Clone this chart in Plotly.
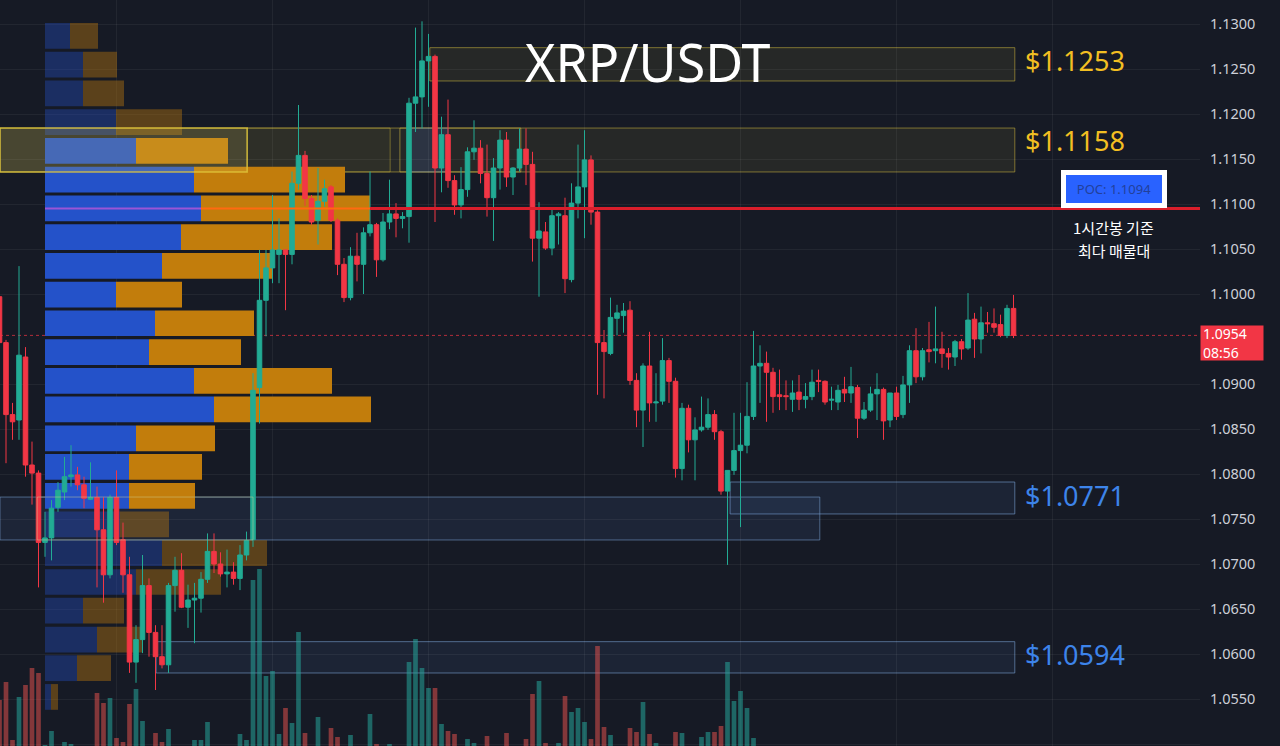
import plotly.graph_objects as go

# ---------------- data ----------------
bar_index = list(range(157))  # 1h bars

opens = [1.0997, 1.0946, 1.0866, 1.0860, 1.0930, 1.0810, 1.0801, 1.0724, 1.0729, 1.0763,
         1.0780, 1.0797, 1.0799, 1.0788, 1.0772, 1.0774, 1.0738, 1.0688, 1.0774, 1.0727,
         1.0688, 1.0591, 1.0616, 1.0676, 1.0624, 1.0597, 1.0588, 1.0676, 1.0693, 1.0652,
         1.0660, 1.0662, 1.0683, 1.0714, 1.0700, 1.0689, 1.0691, 1.0684, 1.0710, 1.0727,
         1.0896, 1.0993, 1.1029, 1.1044, 1.1049, 1.1044, 1.1123, 1.1154, 1.1106, 1.1082,
         1.1103, 1.1119, 1.1082, 1.1033, 1.0996, 1.1042, 1.1033, 1.1068, 1.1077, 1.1038,
         1.1080, 1.1089, 1.1084, 1.1086, 1.1212, 1.1219, 1.1259, 1.1264, 1.1140, 1.1177,
         1.1126, 1.1099, 1.1116, 1.1158, 1.1162, 1.1134, 1.1107, 1.1140, 1.1171, 1.1130,
         1.1140, 1.1161, 1.1144, 1.1062, 1.1069, 1.1051, 1.1087, 1.1087, 1.1016, 1.1101,
         1.1119, 1.1149, 1.1091, 1.0946, 1.0934, 1.0973, 1.0976, 1.0982, 1.0904, 1.0871,
         1.0920, 1.0879, 1.0881, 1.0926, 1.0903, 1.0806, 1.0873, 1.0838, 1.0849, 1.0852,
         1.0866, 1.0847, 1.0781, 1.0804, 1.0826, 1.0832, 1.0864, 1.0920, 1.0923, 1.0913,
         1.0888, 1.0887, 1.0883, 1.0891, 1.0883, 1.0886, 1.0904, 1.0903, 1.0882, 1.0880,
         1.0894, 1.0890, 1.0896, 1.0862, 1.0871, 1.0889, 1.0894, 1.0860, 1.0890, 1.0866,
         1.0899, 1.0937, 1.0908, 1.0938, 1.0937, 1.0939, 1.0934, 1.0930, 1.0947, 1.0940,
         1.0972, 1.0950, 1.0968, 1.0967, 1.0966, 1.0954, 1.0984]

highs = [1.1004, 1.0949, 1.0879, 1.1031, 1.0941, 1.0836, 1.0804, 1.0758, 1.0771, 1.0791,
         1.0819, 1.0832, 1.0808, 1.0797, 1.0813, 1.0786, 1.0774, 1.0777, 1.0804, 1.0746,
         1.0708, 1.0632, 1.0710, 1.0684, 1.0632, 1.0632, 1.0679, 1.0708, 1.0712, 1.0677,
         1.0679, 1.0691, 1.0734, 1.0734, 1.0713, 1.0716, 1.0702, 1.0721, 1.0736, 1.0912,
         1.1049, 1.1049, 1.1110, 1.1084, 1.1049, 1.1136, 1.1210, 1.1159, 1.1110, 1.1140,
         1.1127, 1.1121, 1.1084, 1.1040, 1.1052, 1.1068, 1.1074, 1.1136, 1.1079, 1.1090,
         1.1127, 1.1101, 1.1091, 1.1218, 1.1296, 1.1303, 1.1289, 1.1266, 1.1197, 1.1216,
         1.1132, 1.1141, 1.1163, 1.1193, 1.1171, 1.1166, 1.1151, 1.1182, 1.1180, 1.1141,
         1.1184, 1.1184, 1.1158, 1.1102, 1.1080, 1.1096, 1.1091, 1.1107, 1.1123, 1.1166,
         1.1182, 1.1154, 1.1093, 1.0960, 1.0996, 1.0988, 1.0990, 1.0992, 1.0912, 1.0923,
         1.0958, 1.0912, 1.0951, 1.0929, 1.0907, 1.0879, 1.0877, 1.0863, 1.0886, 1.0884,
         1.0871, 1.0849, 1.0804, 1.0868, 1.0868, 1.0902, 1.0959, 1.0943, 1.0936, 1.0918,
         1.0916, 1.0904, 1.0904, 1.0910, 1.0901, 1.0916, 1.0916, 1.0904, 1.0897, 1.0899,
         1.0908, 1.0919, 1.0899, 1.0880, 1.0897, 1.0912, 1.0896, 1.0890, 1.0897, 1.0909,
         1.0943, 1.0962, 1.0940, 1.0969, 1.0986, 1.0958, 1.0940, 1.0949, 1.0950, 1.1001,
         1.0979, 1.0986, 1.0980, 1.0984, 1.0977, 1.0988, 1.0999]

lows = [1.0943, 1.0812, 1.0838, 1.0838, 1.0797, 1.0766, 1.0674, 1.0708, 1.0704, 1.0758,
        1.0771, 1.0786, 1.0782, 1.0762, 1.0771, 1.0674, 1.0657, 1.0684, 1.0721, 1.0668,
        1.0579, 1.0568, 1.0601, 1.0597, 1.0560, 1.0584, 1.0579, 1.0647, 1.0651, 1.0629,
        1.0612, 1.0646, 1.0679, 1.0690, 1.0686, 1.0674, 1.0677, 1.0671, 1.0704, 1.0719,
        1.0856, 1.0953, 1.1012, 1.1012, 1.0982, 1.1033, 1.1116, 1.1098, 1.1077, 1.1055,
        1.1097, 1.1080, 1.1021, 1.0991, 1.0993, 1.1014, 1.1000, 1.1064, 1.1019, 1.1036,
        1.1072, 1.1063, 1.1073, 1.1057, 1.1180, 1.1184, 1.1208, 1.1080, 1.1113, 1.1118,
        1.1088, 1.1084, 1.1108, 1.1149, 1.1123, 1.1086, 1.1059, 1.1116, 1.1119, 1.1110,
        1.1136, 1.1121, 1.1036, 1.0997, 1.1049, 1.1043, 1.1055, 1.1001, 1.1013, 1.1084,
        1.1062, 1.1077, 1.0888, 1.0884, 1.0932, 1.0954, 1.0957, 1.0899, 1.0852, 1.0830,
        1.0858, 1.0858, 1.0877, 1.0879, 1.0796, 1.0793, 1.0824, 1.0793, 1.0847, 1.0849,
        1.0838, 1.0777, 1.0699, 1.0799, 1.0741, 1.0823, 1.0860, 1.0879, 1.0858, 1.0868,
        1.0871, 1.0871, 1.0869, 1.0871, 1.0873, 1.0882, 1.0891, 1.0877, 1.0871, 1.0871,
        1.0880, 1.0879, 1.0840, 1.0860, 1.0869, 1.0860, 1.0838, 1.0852, 1.0860, 1.0862,
        1.0879, 1.0901, 1.0904, 1.0924, 1.0923, 1.0918, 1.0916, 1.0920, 1.0927, 1.0938,
        1.0929, 1.0934, 1.0957, 1.0957, 1.0952, 1.0951, 1.0951]

closes = [1.0946, 1.0866, 1.0858, 1.0932, 1.0810, 1.0801, 1.0724, 1.0729, 1.0762, 1.0782,
          1.0797, 1.0799, 1.0788, 1.0773, 1.0774, 1.0738, 1.0688, 1.0774, 1.0724, 1.0688,
          1.0591, 1.0616, 1.0676, 1.0624, 1.0597, 1.0588, 1.0676, 1.0693, 1.0652, 1.0660,
          1.0662, 1.0683, 1.0714, 1.0700, 1.0689, 1.0691, 1.0684, 1.0710, 1.0726, 1.0893,
          1.0993, 1.1029, 1.1049, 1.1049, 1.1044, 1.1123, 1.1154, 1.1106, 1.1080, 1.1103,
          1.1117, 1.1082, 1.1033, 1.0996, 1.1042, 1.1033, 1.1068, 1.1077, 1.1038, 1.1080,
          1.1089, 1.1084, 1.1086, 1.1212, 1.1219, 1.1259, 1.1264, 1.1140, 1.1177, 1.1126,
          1.1099, 1.1116, 1.1158, 1.1162, 1.1134, 1.1107, 1.1140, 1.1171, 1.1130, 1.1140,
          1.1161, 1.1144, 1.1062, 1.1070, 1.1051, 1.1087, 1.1089, 1.1017, 1.1101, 1.1119,
          1.1149, 1.1091, 1.0946, 1.0936, 1.0974, 1.0979, 1.0981, 1.0904, 1.0871, 1.0920,
          1.0879, 1.0880, 1.0926, 1.0903, 1.0806, 1.0873, 1.0838, 1.0849, 1.0852, 1.0866,
          1.0847, 1.0781, 1.0804, 1.0826, 1.0832, 1.0864, 1.0920, 1.0923, 1.0913, 1.0886,
          1.0886, 1.0886, 1.0890, 1.0883, 1.0886, 1.0902, 1.0903, 1.0880, 1.0883, 1.0893,
          1.0890, 1.0897, 1.0862, 1.0871, 1.0889, 1.0894, 1.0859, 1.0890, 1.0864, 1.0899,
          1.0937, 1.0908, 1.0937, 1.0936, 1.0939, 1.0934, 1.0930, 1.0947, 1.0939, 1.0971,
          1.0950, 1.0968, 1.0967, 1.0963, 1.0954, 1.0984, 1.0954]

# hourly volume (millions XRP)
volumes = [6.0, 7.8, 2.0, 6.3, 7.5, 9.2, 8.7, 1.5, 2.9, 1.0,
           1.8, 1.6, 1.1, 1.0, 0.9, 6.7, 5.7, 6.2, 2.2, 1.8,
           5.6, 7.1, 3.9, 1.2, 2.7, 1.8, 3.1, 1.2, 1.0, 1.1,
           2.0, 2.0, 3.8, 1.0, 1.2, 0.9, 1.1, 2.6, 2.0, 18.0,
           19.1, 8.4, 8.9, 2.6, 5.2, 3.7, 12.8, 2.7, 1.2, 4.3,
           1.3, 3.2, 2.3, 1.2, 2.5, 1.1, 1.3, 4.6, 1.6, 1.2,
           1.6, 1.0, 1.1, 9.8, 12.1, 9.2, 7.2, 7.2, 3.6, 2.9,
           2.6, 1.2, 2.1, 1.7, 1.1, 2.4, 1.3, 1.2, 2.7, 1.0,
           1.1, 2.1, 6.6, 7.9, 1.7, 1.2, 1.7, 6.4, 4.8, 5.2,
           3.8, 2.1, 11.4, 3.3, 2.5, 1.2, 1.1, 3.2, 2.8, 5.8,
           2.6, 1.7, 1.3, 1.2, 2.8, 2.7, 1.2, 1.3, 2.3, 2.8,
           2.8, 3.4, 9.8, 5.9, 6.9, 5.2, 2.2, 1.2, 1.0, 1.1,
           0.8, 0.7, 0.9, 0.8, 1.0, 1.1, 0.8, 0.7, 0.9, 1.0,
           0.8, 1.1, 1.2, 0.9, 1.0, 0.8, 1.2, 0.9, 1.0, 1.1,
           1.3, 1.2, 0.9, 1.0, 0.8, 0.9, 0.8, 1.0, 0.9, 1.2,
           1.0, 0.8, 0.9, 0.7, 0.8, 1.1, 0.9]

# volume profile (price bins, buy / sell volume)
vp_price = [1.12868, 1.12549, 1.12230, 1.11910, 1.11591, 1.11272, 1.10952, 1.10633,
            1.10313, 1.09994, 1.09675, 1.09355, 1.09036, 1.08717, 1.08397, 1.08078,
            1.07758, 1.07439, 1.07120, 1.06800, 1.06481, 1.06161, 1.05842, 1.05523]
vp_buy = [2.5, 3.8, 3.8, 7.1, 9.1, 14.9, 15.6, 13.6, 11.7, 7.1, 11.0, 10.4,
          14.9, 16.9, 9.1, 8.4, 8.4, 7.5, 11.7, 9.1, 3.8, 5.2, 3.2, 0.6]
vp_sell = [2.8, 3.4, 4.1, 6.6, 9.2, 15.1, 16.9, 15.1, 11.1, 6.6, 9.9, 9.2,
           13.8, 15.7, 7.9, 7.3, 6.6, 4.9, 10.5, 8.5, 4.1, 4.6, 3.4, 0.7]
va_high, va_low = 1.1175, 1.0760
poc_price = 1.1095
poc_text = "POC: 1.1094"

# marked levels
level_text = ["$1.1253", "$1.1158", "$1.0771", "$1.0594"]
level_label_y = [1.1260, 1.1171, 1.0776, 1.0599]
zone_lo = [1.12367, 1.11356, 1.07556, 1.05789]
zone_hi = [1.12737, 1.11844, 1.07911, 1.06137]
zone_start = [66.2, 0.08, 112.4, 24.1]
zone_end = 156.2
countdown = "08:56"
note_lines = ["1시간봉 기준", "최다 매물대"]
price_ticks = [1.05, 1.055, 1.06, 1.065, 1.07, 1.075, 1.08, 1.085, 1.09,
               1.10, 1.105, 1.11, 1.115, 1.12, 1.125, 1.13]

# ---------------- styling ----------------
BG = "#161a25"
GRID = "rgba(255,255,255,0.055)"
UP = "#22ab94"
DOWN = "#f23645"
GOLD = "#f2bf22"
BLUE_TXT = "#3d84ea"

fig = go.Figure()

# volume profile (main subplot, bottom layer)
in_va = [va_low <= p <= va_high for p in vp_price]
buy_colors = ["#2452c9" if v else "rgba(36,80,201,0.38)" for v in in_va]
sell_colors = ["#c27d0c" if v else "rgba(194,125,12,0.40)" for v in in_va]
fig.add_trace(go.Bar(y=vp_price, x=vp_buy, base=[0] * len(vp_buy), orientation="h",
                     xaxis="x", yaxis="y", width=0.00286,
                     marker=dict(color=buy_colors, line=dict(width=0)), hoverinfo="skip"))
fig.add_trace(go.Bar(y=vp_price, x=vp_sell, base=vp_buy, orientation="h",
                     xaxis="x", yaxis="y", width=0.00286,
                     marker=dict(color=sell_colors, line=dict(width=0)), hoverinfo="skip"))

# candles
fig.add_trace(go.Candlestick(
    x=bar_index, open=opens, high=highs, low=lows, close=closes,
    xaxis="x2", yaxis="y", whiskerwidth=0,
    increasing=dict(line=dict(color=UP, width=1), fillcolor=UP),
    decreasing=dict(line=dict(color=DOWN, width=1), fillcolor=DOWN),
    hoverinfo="skip"))

# volume bars
vol_colors = ["rgba(38,166,154,0.55)" if c >= o else "rgba(239,83,80,0.5)"
              for o, c in zip(opens, closes)]
fig.add_trace(go.Bar(x=bar_index, y=volumes, xaxis="x2", yaxis="y2", width=0.72,
                     marker=dict(color=vol_colors, line=dict(width=0)), hoverinfo="skip"))

shapes = []
# level zones
for k in range(4):
    gold = k < 2
    shapes.append(dict(type="rect", xref="x2", yref="y", x0=zone_start[k], x1=zone_end,
                       y0=zone_lo[k], y1=zone_hi[k], layer="below",
                       fillcolor="rgba(190,170,60,0.10)" if gold else "rgba(80,120,190,0.11)",
                       line=dict(color="rgba(190,170,60,0.6)" if gold else "rgba(120,160,210,0.6)",
                                 width=1)))
# extra overlapping boxes
shapes += [
    dict(type="rect", xref="x2", yref="y", x0=0.08, x1=38.1, y0=zone_lo[1], y1=zone_hi[1],
         layer="above", fillcolor="rgba(230,210,100,0.18)",
         line=dict(color="rgba(225,200,60,0.8)", width=1.5)),
    dict(type="rect", xref="x2", yref="y", x0=38.1, x1=60.1, y0=zone_lo[1], y1=zone_hi[1],
         layer="below", fillcolor="rgba(190,170,60,0.06)",
         line=dict(color="rgba(190,170,60,0.5)", width=1)),
    dict(type="rect", xref="x2", yref="y", x0=61.6, x1=80.2, y0=zone_lo[1], y1=zone_hi[1],
         layer="below", fillcolor="rgba(0,0,0,0)",
         line=dict(color="rgba(200,180,70,0.6)", width=1)),
    dict(type="rect", xref="x2", yref="y", x0=62.8, x1=69.0, y0=zone_lo[1], y1=zone_hi[1],
         layer="below", fillcolor="rgba(70,110,200,0.18)",
         line=dict(color="rgba(100,140,220,0.3)", width=1)),
    dict(type="rect", xref="x2", yref="y", x0=0.08, x1=126.2, y0=1.07267, y1=1.07744,
         layer="below", fillcolor="rgba(80,120,190,0.12)",
         line=dict(color="rgba(120,160,210,0.55)", width=1)),
    dict(type="rect", xref="x2", yref="y", x0=5.8, x1=39.0, y0=1.07267, y1=1.07744,
         layer="above", fillcolor="rgba(0,0,0,0)",
         line=dict(color="rgba(210,210,150,0.45)", width=1)),
]
# POC lines
buy_poc = vp_buy[6]
tot_poc = vp_buy[6] + vp_sell[6]
shapes += [
    dict(type="line", xref="x", yref="y", x0=0, x1=buy_poc, y0=poc_price, y1=poc_price,
         line=dict(color="#9a55d6", width=2), layer="above"),
    dict(type="line", xref="x", yref="y", x0=buy_poc, x1=tot_poc, y0=poc_price, y1=poc_price,
         line=dict(color="#ff6a10", width=2), layer="above"),
    dict(type="line", xref="x", yref="y", x0=tot_poc, x1=115.5, y0=poc_price, y1=poc_price,
         line=dict(color="#d91e2b", width=3), layer="above"),
    dict(type="line", xref="paper", yref="y", x0=0, x1=1, y0=closes[-1], y1=closes[-1],
         line=dict(color="rgba(242,54,69,0.7)", width=1, dash="dot"), layer="below"),
]

annotations = [
    dict(text="XRP/USDT", xref="paper", yref="paper", x=0.54, y=0.918, showarrow=False,
         xanchor="center", yanchor="middle",
         font=dict(family="Noto Sans", size=52, color="#ffffff")),
]
for k in range(4):
    annotations.append(dict(text=level_text[k], xref="x2", yref="y", x=157.4,
                            y=level_label_y[k], showarrow=False,
                            xanchor="left", yanchor="middle",
                            font=dict(family="Noto Sans", size=27,
                                      color=GOLD if k < 2 else BLUE_TXT)))
annotations += [
    dict(text=poc_text, xref="paper", yref="y", x=0.9283, y=poc_price, yshift=1,
         showarrow=False, xanchor="center", yanchor="bottom",
         bgcolor="#2962ff", bordercolor="#ffffff", borderwidth=5, borderpad=3,
         width=90, height=22, font=dict(family="Noto Sans", size=13, color="#22409a")),
    dict(text=note_lines[0], xref="paper", yref="y", x=0.9283, y=poc_price,
         yshift=-19, showarrow=False, xanchor="center", yanchor="middle",
         font=dict(family="Noto Sans CJK KR", size=15, color="#ffffff")),
    dict(text=note_lines[1], xref="paper", yref="y", x=0.9283, y=poc_price,
         yshift=-42, showarrow=False, xanchor="center", yanchor="middle",
         font=dict(family="Noto Sans CJK KR", size=15, color="#ffffff")),
    dict(text=f"{closes[-1]:.4f}<br>{countdown}", xref="paper", yref="y", x=1.0,
         y=closes[-1], yshift=10, showarrow=False, xanchor="left", yanchor="top",
         bgcolor=DOWN, borderpad=2, width=58, height=30, align="left",
         font=dict(family="Noto Sans", size=14, color="#ffffff")),
]

fig.update_layout(
    width=1280, height=746,
    margin=dict(l=0, r=80, t=0, b=0),
    paper_bgcolor=BG, plot_bgcolor=BG,
    showlegend=False, barmode="overlay",
    boxgap=0.3, boxgroupgap=0,
    shapes=shapes, annotations=annotations,
    xaxis=dict(range=[-4.5, 115.5], visible=False, fixedrange=True),
    xaxis2=dict(overlaying="x", anchor="y", range=[0.077, 184.69], showticklabels=False,
                showgrid=True, gridcolor=GRID, gridwidth=1, zeroline=False,
                tickvals=[18, 42, 66, 90, 114, 138, 162], ticks="",
                rangeslider=dict(visible=False), fixedrange=True),
    yaxis=dict(side="right", anchor="x", range=[1.049778, 1.132667],
               tickvals=price_ticks, tickformat=".4f", showgrid=True, gridcolor=GRID,
               zeroline=False, ticks="", ticklabelstandoff=9,
               tickfont=dict(family="Noto Sans", size=14.5, color="#cdd0d8"),
               fixedrange=True),
    yaxis2=dict(overlaying="y", anchor="x2", range=[1.4, 76.0], visible=False, fixedrange=True),
)

fig.write_html("out.html")
